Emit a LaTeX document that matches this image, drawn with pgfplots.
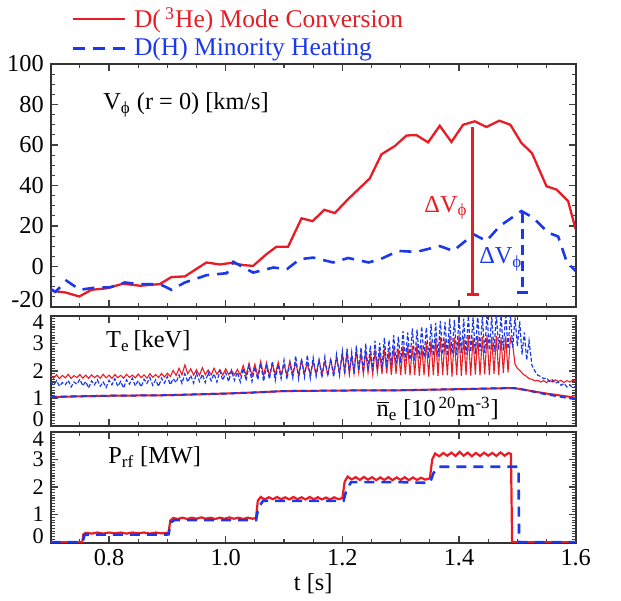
\documentclass[border=0pt]{standalone}
\usepackage{fontspec}
\setmainfont{Liberation Serif}
\usepackage{pgfplots}
\pgfplotsset{compat=1.18}
\definecolor{myred}{RGB}{232,28,36}
\definecolor{myblue}{RGB}{28,56,236}
\newcommand{\fs}{\fontsize{12.2}{14}\selectfont}
\newcommand{\fss}{\fontsize{11.2}{13}\selectfont}
\newcommand{\fl}{\fontsize{12.8}{14}\selectfont}
\newcommand{\sh}[2]{\raisebox{#1}[\height][\depth]{#2}}
\pgfplotsset{
 panel/.style={
  scale only axis, width=262.5bp, xmin=0.7, xmax=1.6, anchor=south west,
  axis line style={line width=0.9bp, black!80},
  tick pos=both, tick align=inside,
  xtick={0.8,1.0,1.2,1.4,1.6}, minor xtick={0.75,0.85,0.9,0.95,1.05,1.1,1.15,1.25,1.3,1.35,1.45,1.5,1.55},
  major tick length=3.5bp, minor tick length=2bp,
  every tick/.style={black!75, line width=0.6bp},
  tick label style={font=\fs},
  label style={font=\fs},
  /pgf/number format/assume math mode=true,
 }
}
\begin{document}
\begin{tikzpicture}
\path[use as bounding box] (0,0) rectangle (310.5bp,-300.5bp);
% ---------------- (a)
\begin{axis}[panel, at={(25.35bp,-153.5bp)}, height=121.5bp,
  ymin=-20, ymax=100, ytick={-20,0,20,40,60,80,100}, minor y tick num=3,
  yticklabels={\sh{3.5bp}{-20},0,20,40,60,80,100},
  xticklabels={},
  legend style={draw=none, fill=none, at={(0.0387,1)}, anchor=south west, yshift=1.5bp,
     inner sep=0pt, column sep=3bp, row sep=1.6bp, nodes={inner sep=1bp}, font=\fl},
  legend cell align=left,
  legend image code/.code={\draw[#1] (0bp,0bp) -- (26bp,0bp);},
]
\addplot[myred, line width=1.15bp] coordinates {(0.700,-12.0)(0.725,-12.8)(0.749,-14.8)(0.770,-11.5)(0.795,-10.8)(0.824,-8.5)(0.853,-9.5)(0.887,-8.7)(0.907,-5.2)(0.930,-4.9)(0.967,2.0)(0.990,1.0)(1.010,1.8)(1.030,0.7)(1.047,0.3)(1.070,6.1)(1.087,9.8)(1.107,9.8)(1.130,23.8)(1.149,22.4)(1.169,28.0)(1.187,26.4)(1.210,33.3)(1.247,43.5)(1.267,55.4)(1.290,59.5)(1.310,64.7)(1.327,64.9)(1.347,61.3)(1.367,69.5)(1.387,61.5)(1.407,70.0)(1.427,71.7)(1.447,68.9)(1.469,72.0)(1.488,70.0)(1.507,61.0)(1.525,56.0)(1.550,39.6)(1.567,38.0)(1.587,32.3)(1.600,18.3)};
\addlegendentry{\textcolor{myred}{D(\,\textsuperscript{3}He) Mode Conversion}}
\addplot[myblue, line width=1.3bp, dash pattern=on 6bp off 4bp] coordinates {(0.700,-11.1)(0.708,-12.5)(0.727,-7.0)(0.750,-11.5)(0.779,-10.3)(0.802,-10.3)(0.827,-7.9)(0.853,-8.7)(0.887,-8.7)(0.907,-11.5)(0.930,-7.9)(0.967,-4.3)(1.002,-3.3)(1.013,2.3)(1.047,-3.0)(1.082,-0.5)(1.105,-1.3)(1.127,3.6)(1.150,4.4)(1.184,2.0)(1.210,4.2)(1.245,2.0)(1.265,3.6)(1.296,7.7)(1.327,7.2)(1.367,10.1)(1.390,7.7)(1.425,15.9)(1.447,12.6)(1.470,20.0)(1.507,27.4)(1.527,24.1)(1.553,16.7)(1.570,14.8)(1.585,2.0)(1.600,-2.2)};
\addlegendentry{\textcolor{myblue}{D(H) Minority Heating}}
% Delta V markers
\addplot[myred, line width=1.1bp, forget plot] coordinates {(1.423,68.9)(1.423,-13.8)};
\addplot[myred, line width=1.1bp, forget plot] coordinates {(1.413,-13.8)(1.434,-13.8)};
\addplot[myblue, line width=1.2bp, dash pattern=on 5bp off 3bp, forget plot] coordinates {(1.509,26.6)(1.509,-12.8)};
\addplot[myblue, line width=1.2bp, forget plot] coordinates {(1.499,-12.8)(1.519,-12.8)};
\node[anchor=west, font=\fs, inner sep=0pt] at (rel axis cs:0.0996,0.831) {V\textsubscript{ϕ} (r = 0) [km/s]};
\node[anchor=west, font=\fs, text=myred, inner sep=0pt] at (axis cs:1.340,29) {ΔV\textsubscript{ϕ}};
\node[anchor=west, font=\fs, text=myblue, inner sep=0pt] at (axis cs:1.434,3.6) {ΔV\textsubscript{ϕ}};
\node[font=\fs, inner sep=0pt] at (rel axis cs:1.052,0.099) {(a)};
\end{axis}
% ---------------- (b)
\begin{axis}[panel, at={(25.35bp,-213bp)}, height=55bp,
  ymin=0, ymax=4, ytick={0,1,2,3,4}, minor y tick num=9,
  yticklabels={\sh{3.6bp}{0},1,2,3,\sh{-3bp}{4}},
  yticklabel style={font=\fss},
  xticklabels={},
]
\addplot[myred, line width=0.55bp] coordinates {(0.700,1.82)(0.705,1.74)(0.710,1.86)(0.715,1.72)(0.720,1.84)(0.725,1.75)(0.730,1.88)(0.735,1.73)(0.740,1.83)(0.745,1.76)(0.750,1.87)(0.755,1.74)(0.760,1.85)(0.765,1.73)(0.770,1.86)(0.775,1.76)(0.780,1.84)(0.785,1.74)(0.790,1.88)(0.795,1.75)(0.800,1.85)(0.805,1.73)(0.810,1.87)(0.815,1.76)(0.820,1.84)(0.825,1.74)(0.830,1.88)(0.835,1.77)(0.840,1.85)(0.845,1.75)(0.850,1.89)(0.855,1.76)(0.860,1.86)(0.865,1.74)(0.870,1.90)(0.875,1.77)(0.880,1.87)(0.885,1.76)(0.890,1.91)(0.895,1.78)(0.900,1.92)(0.905,1.80)(0.910,2.02)(0.915,1.84)(0.920,2.10)(0.925,1.86)(0.930,2.22)(0.935,1.90)(0.940,2.08)(0.945,1.85)(0.950,2.05)(0.955,1.84)(0.960,2.12)(0.965,1.87)(0.970,2.04)(0.975,1.86)(0.980,2.10)(0.985,1.88)(0.990,2.05)(0.995,1.85)(1.000,2.08)(1.005,1.87)(1.010,2.02)(1.015,1.86)(1.020,2.06)(1.025,1.85)(1.030,2.20)(1.035,1.84)(1.040,2.28)(1.045,1.82)(1.050,2.25)(1.055,1.80)(1.060,2.35)(1.065,1.83)(1.070,2.30)(1.075,1.82)(1.080,2.26)(1.085,1.86)(1.090,2.32)(1.095,1.84)(1.100,2.22)(1.105,1.86)(1.110,2.36)(1.115,1.88)(1.120,2.30)(1.125,1.85)(1.130,2.38)(1.135,1.90)(1.140,2.28)(1.145,1.86)(1.150,2.34)(1.155,1.88)(1.160,2.40)(1.165,1.90)(1.170,2.32)(1.175,1.86)(1.180,2.42)(1.185,1.90)(1.190,2.50)(1.195,1.92)(1.200,2.62)(1.204,1.95)(1.208,2.70)(1.212,1.90)(1.216,2.55)(1.220,1.92)(1.224,2.78)(1.228,1.96)(1.232,2.66)(1.236,1.90)(1.240,2.72)(1.244,1.94)(1.248,2.60)(1.252,1.88)(1.256,2.76)(1.260,1.95)(1.264,2.68)(1.268,1.90)(1.272,2.82)(1.276,1.92)(1.280,2.74)(1.284,1.86)(1.288,2.88)(1.292,1.90)(1.296,2.80)(1.300,1.85)(1.304,2.92)(1.308,1.88)(1.312,2.96)(1.316,1.84)(1.320,2.90)(1.324,1.86)(1.328,3.00)(1.332,1.82)(1.336,2.94)(1.340,1.85)(1.344,3.05)(1.348,1.80)(1.352,3.10)(1.356,1.84)(1.360,3.20)(1.364,1.82)(1.368,3.24)(1.372,1.86)(1.376,3.18)(1.380,1.84)(1.384,3.28)(1.388,1.80)(1.392,3.22)(1.396,1.85)(1.400,3.30)(1.404,1.82)(1.408,3.25)(1.412,1.86)(1.416,3.30)(1.420,1.83)(1.424,3.22)(1.428,1.87)(1.432,3.28)(1.436,1.84)(1.440,3.26)(1.444,1.88)(1.448,3.30)(1.452,1.85)(1.456,3.24)(1.460,1.90)(1.464,3.28)(1.468,1.86)(1.472,3.22)(1.476,1.92)(1.480,3.26)(1.484,1.95)(1.488,3.20)(1.492,2.95)(1.496,2.25)(1.500,2.10)(1.505,2.00)(1.510,1.88)(1.515,1.82)(1.520,1.72)(1.525,1.70)(1.530,1.64)(1.535,1.66)(1.540,1.60)(1.545,1.65)(1.550,1.58)(1.555,1.66)(1.560,1.60)(1.565,1.68)(1.570,1.62)(1.575,1.66)(1.580,1.58)(1.585,1.65)(1.590,1.60)(1.595,1.67)(1.600,1.62)};
\addplot[myblue, line width=0.6bp, dash pattern=on 2bp off 1bp] coordinates {(0.700,1.60)(0.705,1.48)(0.710,1.65)(0.715,1.45)(0.720,1.58)(0.725,1.50)(0.730,1.66)(0.735,1.42)(0.740,1.60)(0.745,1.52)(0.750,1.70)(0.755,1.46)(0.760,1.62)(0.765,1.38)(0.770,1.64)(0.775,1.50)(0.780,1.68)(0.785,1.45)(0.790,1.60)(0.795,1.40)(0.800,1.66)(0.805,1.50)(0.810,1.72)(0.815,1.44)(0.820,1.62)(0.825,1.38)(0.830,1.68)(0.835,1.52)(0.840,1.74)(0.845,1.46)(0.850,1.65)(0.855,1.42)(0.860,1.70)(0.865,1.55)(0.870,1.76)(0.875,1.48)(0.880,1.68)(0.885,1.44)(0.890,1.74)(0.895,1.56)(0.900,1.80)(0.905,1.50)(0.910,1.72)(0.915,1.58)(0.920,1.86)(0.925,1.55)(0.930,1.90)(0.935,1.60)(0.940,1.84)(0.945,1.56)(0.950,1.92)(0.955,1.62)(0.960,1.88)(0.965,1.58)(0.970,1.95)(0.975,1.64)(0.980,1.90)(0.985,1.60)(0.990,2.00)(0.995,1.66)(1.000,1.94)(1.005,1.62)(1.010,2.02)(1.015,1.66)(1.020,1.96)(1.025,1.60)(1.030,2.10)(1.035,1.65)(1.040,2.20)(1.045,1.62)(1.050,2.15)(1.055,1.68)(1.060,2.28)(1.065,1.62)(1.070,2.20)(1.075,1.70)(1.080,2.35)(1.085,1.66)(1.090,2.25)(1.095,1.72)(1.100,2.40)(1.105,1.70)(1.110,2.30)(1.115,1.75)(1.120,2.55)(1.125,1.72)(1.130,2.45)(1.135,1.78)(1.140,2.58)(1.145,1.74)(1.150,2.48)(1.155,1.80)(1.160,2.40)(1.165,1.76)(1.170,2.52)(1.175,1.82)(1.180,2.45)(1.185,1.78)(1.190,2.60)(1.195,1.85)(1.200,2.72)(1.204,1.88)(1.208,2.80)(1.212,1.95)(1.216,2.68)(1.220,1.90)(1.224,2.90)(1.228,2.00)(1.232,2.85)(1.236,1.95)(1.240,3.00)(1.244,2.05)(1.248,2.92)(1.252,2.00)(1.256,3.10)(1.260,2.08)(1.264,3.02)(1.268,2.10)(1.272,3.20)(1.276,2.15)(1.280,3.12)(1.284,2.20)(1.288,3.30)(1.292,2.25)(1.296,3.25)(1.300,2.30)(1.304,3.45)(1.308,2.35)(1.312,3.40)(1.316,2.40)(1.320,3.55)(1.324,2.38)(1.328,3.50)(1.332,2.45)(1.336,3.62)(1.340,2.50)(1.344,3.58)(1.348,2.48)(1.352,3.70)(1.356,2.55)(1.360,3.75)(1.364,2.50)(1.368,3.82)(1.372,2.60)(1.376,3.78)(1.380,2.55)(1.384,3.90)(1.388,2.62)(1.392,3.85)(1.396,2.58)(1.400,3.95)(1.404,2.65)(1.408,3.90)(1.412,2.60)(1.416,4.00)(1.420,2.70)(1.424,3.95)(1.428,2.62)(1.432,4.05)(1.436,2.72)(1.440,3.98)(1.444,2.66)(1.448,4.08)(1.452,2.75)(1.456,4.00)(1.460,2.70)(1.464,4.10)(1.468,2.78)(1.472,4.02)(1.476,2.74)(1.480,4.10)(1.484,2.80)(1.488,4.05)(1.492,2.85)(1.496,3.95)(1.500,2.90)(1.504,3.80)(1.508,2.60)(1.512,3.40)(1.516,2.40)(1.520,3.10)(1.525,2.20)(1.530,2.00)(1.535,1.85)(1.540,1.80)(1.545,1.72)(1.550,1.75)(1.555,1.62)(1.560,1.68)(1.565,1.55)(1.570,1.60)(1.575,1.48)(1.580,1.55)(1.585,1.42)(1.590,1.50)(1.595,1.38)(1.600,1.45)};
\addplot[myred, line width=1bp] coordinates {(0.70,1.05)(0.75,1.08)(0.80,1.10)(0.90,1.12)(1.00,1.18)(1.05,1.22)(1.10,1.27)(1.20,1.29)(1.30,1.30)(1.40,1.34)(1.49,1.38)(1.50,1.36)(1.55,1.18)(1.60,1.03)};
\addplot[myblue, line width=1bp, dash pattern=on 3bp off 2bp] coordinates {(0.70,1.06)(0.75,1.08)(0.80,1.10)(0.90,1.12)(1.00,1.18)(1.05,1.22)(1.10,1.27)(1.20,1.29)(1.30,1.30)(1.40,1.34)(1.49,1.38)(1.50,1.37)(1.55,1.15)(1.60,0.97)};
\node[anchor=west, font=\fs, inner sep=0pt] at (rel axis cs:0.105,0.77) {T\textsubscript{e}\,[keV]};
\node[anchor=west, font=\fs, inner sep=0pt] at (rel axis cs:0.62,0.157) {$\overline{\mbox{n}}$\textsubscript{e} [10\textsuperscript{\,20}m\textsuperscript{-3}]};
\node[font=\fs, inner sep=0pt] at (rel axis cs:1.052,0.1) {(b)};
\end{axis}
% ---------------- (c)
\begin{axis}[panel, at={(25.35bp,-271.35bp)}, height=55.35bp,
  ymin=-0.02, ymax=4, ytick={0,1,2,3,4}, minor y tick num=9,
  yticklabels={\sh{3bp}{0},1,2,3,\sh{-3.6bp}{4}},
  yticklabel style={font=\fss},
  xticklabels={0.8,1.0,1.2,1.4,1.6},
  xlabel={t [s]}, xlabel style={yshift=3bp},
]
\addplot[myred, line width=1.1bp] coordinates {(0.700,0)(0.754,0)(0.756,0.28)(0.760,0.34)(0.770,0.31)(0.780,0.35)(0.790,0.31)(0.800,0.35)(0.810,0.32)(0.820,0.35)(0.830,0.31)(0.840,0.35)(0.850,0.32)(0.860,0.35)(0.870,0.31)(0.880,0.35)(0.890,0.32)(0.902,0.34)(0.905,0.78)(0.910,0.88)(0.918,0.84)(0.926,0.89)(0.934,0.84)(0.942,0.89)(0.950,0.85)(0.958,0.90)(0.966,0.85)(0.974,0.89)(0.982,0.84)(0.990,0.89)(0.998,0.85)(1.006,0.90)(1.014,0.85)(1.022,0.89)(1.030,0.84)(1.038,0.89)(1.046,0.85)(1.052,0.88)(1.055,1.50)(1.060,1.64)(1.067,1.55)(1.074,1.63)(1.081,1.56)(1.088,1.64)(1.095,1.56)(1.102,1.63)(1.109,1.55)(1.116,1.64)(1.123,1.56)(1.130,1.63)(1.137,1.55)(1.144,1.64)(1.151,1.56)(1.158,1.63)(1.165,1.55)(1.172,1.62)(1.179,1.55)(1.186,1.63)(1.193,1.56)(1.200,1.60)(1.204,2.20)(1.209,2.38)(1.216,2.28)(1.223,2.36)(1.230,2.26)(1.237,2.37)(1.244,2.27)(1.251,2.36)(1.258,2.25)(1.265,2.35)(1.272,2.26)(1.279,2.36)(1.286,2.25)(1.293,2.35)(1.300,2.26)(1.307,2.36)(1.314,2.25)(1.321,2.35)(1.328,2.26)(1.335,2.34)(1.342,2.27)(1.350,2.32)(1.354,3.00)(1.359,3.22)(1.366,3.12)(1.373,3.24)(1.380,3.14)(1.387,3.25)(1.394,3.13)(1.401,3.28)(1.408,3.14)(1.415,3.25)(1.422,3.12)(1.429,3.24)(1.436,3.13)(1.443,3.25)(1.450,3.14)(1.457,3.24)(1.464,3.13)(1.471,3.26)(1.478,3.14)(1.485,3.24)(1.489,3.20)(1.491,0)(1.600,0)};
\addplot[myblue, line width=1.3bp, dash pattern=on 5bp off 3.5bp] coordinates {(0.700,0)(0.755,0)(0.758,0.27)(0.902,0.28)(0.906,0.72)(0.912,0.80)(1.052,0.80)(1.056,1.25)(1.064,1.50)(1.202,1.50)(1.207,1.90)(1.215,2.18)(1.300,2.18)(1.350,2.15)(1.356,2.50)(1.365,2.74)(1.502,2.74)(1.503,0)(1.600,0)};
\node[anchor=west, font=\fs, inner sep=0pt] at (rel axis cs:0.109,0.777) {P\textsubscript{rf} [MW]};
\node[font=\fs, inner sep=0pt] at (rel axis cs:1.052,0.145) {(c)};
\end{axis}
\end{tikzpicture}
\end{document}
